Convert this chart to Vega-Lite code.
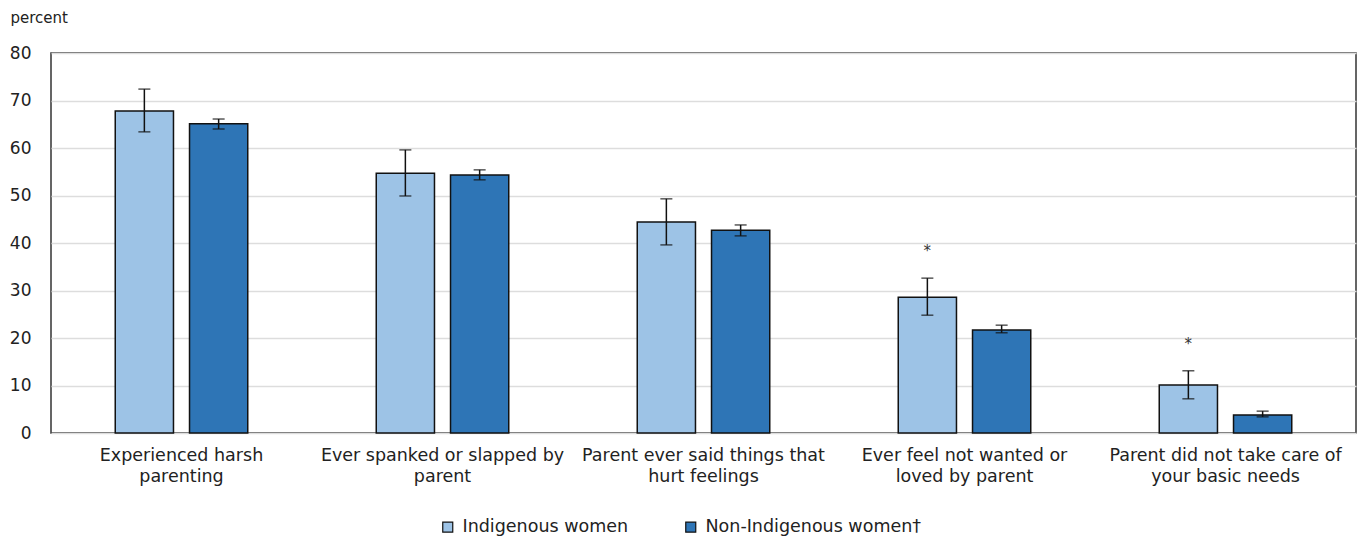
{
  "$schema": "https://vega.github.io/schema/vega-lite/v6.json",
  "width": 1305,
  "height": 380,
  "autosize": {"type": "none"},
  "padding": {"left": 51, "top": 53, "right": 3, "bottom": 104},
  "background": "white",
  "config": {
    "font": "DejaVu Sans",
    "view": {"stroke": "#333333", "strokeWidth": 1.5},
    "axis": {"labelColor": "#222222", "titleColor": "#222222", "labelFont": "DejaVu Sans", "titleFont": "DejaVu Sans"},
    "axisY": {
      "titleAngle": 0,
      "titleAlign": "left",
      "titleBaseline": "alphabetic",
      "titleX": -41,
      "titleY": -31,
      "titleFontSize": 15,
      "titleFontWeight": "normal",
      "labelOverlap": false,
      "labelFontSize": 17,
      "labelPadding": 20,
      "ticks": false,
      "domain": false,
      "gridColor": "#dddddd",
      "gridWidth": 1.5
    }
  },
  "data": {
    "values": [
      {"category": "Experienced harsh|parenting", "group": "Indigenous women", "value": 67.8, "lo": 63.4, "hi": 72.4, "sig": "", "order": 1},
      {"category": "Experienced harsh|parenting", "group": "Non-Indigenous women†", "value": 65.1, "lo": 64.0, "hi": 66.1, "sig": "", "order": 1},
      {"category": "Ever spanked or slapped by|parent", "group": "Indigenous women", "value": 54.7, "lo": 49.9, "hi": 59.6, "sig": "", "order": 2},
      {"category": "Ever spanked or slapped by|parent", "group": "Non-Indigenous women†", "value": 54.3, "lo": 53.3, "hi": 55.4, "sig": "", "order": 2},
      {"category": "Parent ever said things that|hurt feelings", "group": "Indigenous women", "value": 44.4, "lo": 39.6, "hi": 49.3, "sig": "", "order": 3},
      {"category": "Parent ever said things that|hurt feelings", "group": "Non-Indigenous women†", "value": 42.7, "lo": 41.5, "hi": 43.8, "sig": "", "order": 3},
      {"category": "Ever feel not wanted or|loved by parent", "group": "Indigenous women", "value": 28.6, "lo": 24.8, "hi": 32.6, "sig": "*", "order": 4},
      {"category": "Ever feel not wanted or|loved by parent", "group": "Non-Indigenous women†", "value": 21.7, "lo": 21.1, "hi": 22.7, "sig": "", "order": 4},
      {"category": "Parent did not take care of|your basic needs", "group": "Indigenous women", "value": 10.1, "lo": 7.2, "hi": 13.1, "sig": "*", "order": 5},
      {"category": "Parent did not take care of|your basic needs", "group": "Non-Indigenous women†", "value": 3.8, "lo": 3.4, "hi": 4.6, "sig": "", "order": 5}
    ]
  },
  "encoding": {
    "x": {
      "field": "category",
      "type": "nominal",
      "sort": {"field": "order"},
      "scale": {"paddingInner": 0, "paddingOuter": 0},
      "axis": {
        "title": null,
        "labelAngle": 0,
        "labelExpr": "split(datum.label, '|')",
        "labelFontSize": 17.5,
        "labelLineHeight": 21,
        "labelPadding": 13,
        "ticks": false,
        "domain": false,
        "labelLimit": 400
      }
    },
    "xOffset": {
      "field": "group",
      "type": "nominal",
      "scale": {"paddingInner": 0.216, "paddingOuter": 0.865}
    }
  },
  "layer": [
    {
      "mark": {"type": "bar", "stroke": "#111111", "strokeWidth": 1.5},
      "encoding": {
        "y": {
          "field": "value",
          "type": "quantitative",
          "scale": {"domain": [0, 80]},
          "axis": {"title": "percent", "values": [0, 10, 20, 30, 40, 50, 60, 70, 80]}
        },
        "color": {
          "field": "group",
          "type": "nominal",
          "scale": {"domain": ["Indigenous women", "Non-Indigenous women†"], "range": ["#9dc3e6", "#2e75b6"]},
          "legend": {
            "title": null,
            "orient": "none",
            "direction": "horizontal",
            "legendX": 388,
            "legendY": 465,
            "symbolType": "square",
            "symbolSize": 100,
            "symbolStrokeColor": "#111111",
            "symbolStrokeWidth": 1.2,
            "labelFontSize": 17.5,
            "labelLimit": 400,
            "labelColor": "#222222",
            "labelFont": "DejaVu Sans",
            "columnPadding": 53,
            "labelOffset": 6
          }
        }
      }
    },
    {
      "mark": {"type": "rule", "color": "#111111", "strokeWidth": 1.5},
      "encoding": {
        "y": {"field": "lo", "type": "quantitative", "axis": {"title": "percent", "values": [0, 10, 20, 30, 40, 50, 60, 70, 80]}},
        "y2": {"field": "hi"}
      }
    },
    {
      "mark": {"type": "tick", "color": "#111111", "thickness": 1.5, "size": 12},
      "encoding": {"y": {"field": "lo", "type": "quantitative", "axis": {"title": "percent", "values": [0, 10, 20, 30, 40, 50, 60, 70, 80]}}}
    },
    {
      "mark": {"type": "tick", "color": "#111111", "thickness": 1.5, "size": 12},
      "encoding": {"y": {"field": "hi", "type": "quantitative", "axis": {"title": "percent", "values": [0, 10, 20, 30, 40, 50, 60, 70, 80]}}}
    },
    {
      "mark": {"type": "text", "fontSize": 15, "color": "#333333", "dy": -27, "baseline": "middle"},
      "encoding": {
        "y": {"field": "hi", "type": "quantitative", "axis": {"title": "percent", "values": [0, 10, 20, 30, 40, 50, 60, 70, 80]}},
        "text": {"field": "sig"}
      }
    }
  ]
}
